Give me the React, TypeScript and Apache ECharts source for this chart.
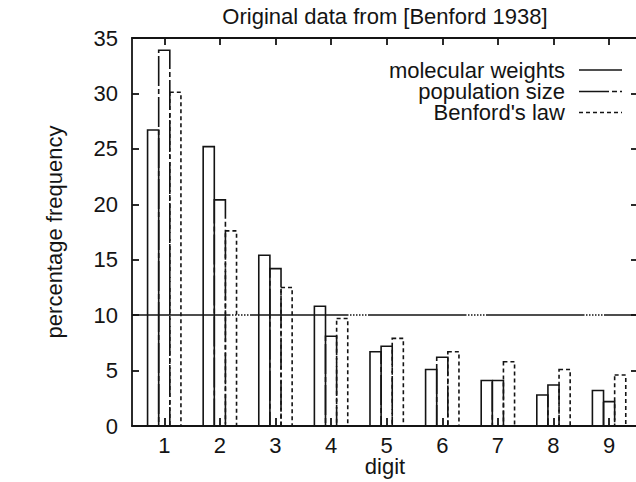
import React, { useEffect, useRef } from 'react';
import * as echarts from 'echarts';

// Leading-digit frequencies (percent) from Benford's 1938 tables.
const digits = [1, 2, 3, 4, 5, 6, 7, 8, 9];
const molecularWeights = [26.7, 25.2, 15.4, 10.8, 6.7, 5.1, 4.1, 2.8, 3.2];
const populationSize = [33.9, 20.4, 14.2, 8.1, 7.2, 6.2, 4.1, 3.7, 2.2];
const benfordsLaw = [30.1, 17.6, 12.5, 9.7, 7.9, 6.7, 5.8, 5.1, 4.6];
const seriesNames = ['molecular weights', 'population size', "Benford's law"];
const referenceLevel = 10;

const titleText = 'Original data from [Benford 1938]';
const xAxisName = 'digit';
const yAxisName = 'percentage frequency';

// Layout and style
const INK = '#141414';
const FONT = "'Liberation Sans', Arial, Helvetica, sans-serif";
const FONT_SIZE = 22;
const X_MIN = 0.42;
const X_MAX = 9.52;
const Y_MIN = 0;
const Y_MAX = 35;
const Y_STEP = 5;
const BOX_HALF = 0.1;
const BAR_LINE = 1.6;
const FRAME_LINE = 1.8;

const SOLID: number[] | undefined = undefined;
const LONG_DASH = [30, 3, 5, 3];
const DOTTED = [4, 3];
const REF_DASH = [98.5, 1.5, 1.5, 1.5, 1.5, 1.5, 1.5, 1.5, 1.5, 1.5, 1.5, 1.5, 1.5, 1.5];

const boxSeries = (name: string, values: number[], offset: number, dash?: number[]) => ({
  type: 'custom',
  name,
  coordinateSystem: 'cartesian2d',
  xAxisIndex: 0,
  yAxisIndex: 0,
  silent: true,
  z: 3,
  data: digits.map((d, i) => [d, values[i]]),
  encode: { x: 0, y: 1 },
  renderItem: (_params: any, api: any) => {
    const d = api.value(0) as number;
    const v = api.value(1) as number;
    const tl = api.coord([d + offset - BOX_HALF, v]);
    const br = api.coord([d + offset + BOX_HALF, 0]);
    return {
      type: 'rect',
      shape: { x: tl[0], y: tl[1], width: br[0] - tl[0], height: br[1] - tl[1] },
      style: { fill: 'none', stroke: INK, lineWidth: BAR_LINE, lineDash: dash },
    };
  },
});

const legendRows = [
  { name: seriesNames[0], dash: SOLID, y: 70 },
  { name: seriesNames[1], dash: LONG_DASH, y: 91.5 },
  { name: seriesNames[2], dash: DOTTED, y: 112.5 },
];

export default function App() {
  const ref = useRef<HTMLDivElement>(null);

  useEffect(() => {
    if (!ref.current) return;
    const chart = echarts.init(ref.current, undefined, { renderer: 'svg' });

    const tickStyle = { color: INK, width: FRAME_LINE };
    const axisLine = { show: true, onZero: false, lineStyle: tickStyle };
    const labelStyle = { color: INK, fontSize: FONT_SIZE, fontFamily: FONT };

    const molecular: any = boxSeries(seriesNames[0], molecularWeights, -0.2, SOLID);
    molecular.markLine = {
      silent: true,
      animation: false,
      symbol: ['none', 'none'],
      label: { show: false },
      lineStyle: { color: INK, width: BAR_LINE, type: REF_DASH },
      data: [{ yAxis: referenceLevel }],
    };

    chart.setOption({
      animation: false,
      backgroundColor: '#ffffff',
      textStyle: { fontFamily: FONT, color: INK },
      title: {
        text: titleText,
        left: 385,
        top: 5,
        padding: 0,
        textAlign: 'center',
        textStyle: { ...labelStyle, fontWeight: 'normal' },
      },
      grid: {
        left: 132,
        top: 38,
        width: 506,
        height: 388,
        containLabel: false,
        outerBoundsMode: 'none',
      },
      xAxis: [
        {
          type: 'value',
          position: 'bottom',
          min: X_MIN,
          max: X_MAX,
          axisLine,
          axisTick: { show: true, inside: true, length: 8, customValues: digits, lineStyle: tickStyle },
          axisLabel: { ...labelStyle, margin: 8, customValues: digits },
          splitLine: { show: false },
          name: xAxisName,
          nameLocation: 'middle',
          nameGap: 29,
          nameMoveOverlap: false,
          nameTextStyle: labelStyle,
        },
        {
          type: 'value',
          position: 'top',
          min: X_MIN,
          max: X_MAX,
          axisLine,
          axisTick: { show: true, inside: true, length: 7, customValues: digits, lineStyle: tickStyle },
          axisLabel: { show: false },
          splitLine: { show: false },
        },
      ],
      yAxis: [
        {
          type: 'value',
          position: 'left',
          min: Y_MIN,
          max: Y_MAX,
          interval: Y_STEP,
          axisLine,
          axisTick: { show: true, inside: true, length: 7, lineStyle: tickStyle },
          axisLabel: { ...labelStyle, margin: 14 },
          splitLine: { show: false },
          name: yAxisName,
          nameLocation: 'middle',
          nameRotate: 90,
          nameGap: 67,
          nameMoveOverlap: false,
          nameTextStyle: labelStyle,
        },
        {
          type: 'value',
          position: 'right',
          min: Y_MIN,
          max: Y_MAX,
          interval: Y_STEP,
          axisLine,
          axisTick: { show: true, inside: true, length: 7, lineStyle: tickStyle },
          axisLabel: { show: false },
          splitLine: { show: false },
        },
      ],
      series: [
        molecular,
        boxSeries(seriesNames[1], populationSize, 0, LONG_DASH),
        boxSeries(seriesNames[2], benfordsLaw, 0.2, DOTTED),
      ],
      graphic: legendRows.flatMap((row) => [
        {
          type: 'text',
          x: 565,
          y: row.y,
          silent: true,
          style: {
            text: row.name,
            fill: INK,
            fontSize: FONT_SIZE,
            fontFamily: FONT,
            lineHeight: 18,
            textAlign: 'right',
            textVerticalAlign: 'middle',
          },
        },
        {
          type: 'line',
          silent: true,
          shape: { x1: 579, y1: row.y, x2: 622, y2: row.y },
          style: { stroke: INK, lineWidth: BAR_LINE, lineDash: row.dash },
        },
      ]),
    });

    return () => chart.dispose();
  }, []);

  return (
    <div
      ref={ref}
      style={{ position: 'absolute', left: 0, top: 0, width: 636, height: 482 }}
    />
  );
}
